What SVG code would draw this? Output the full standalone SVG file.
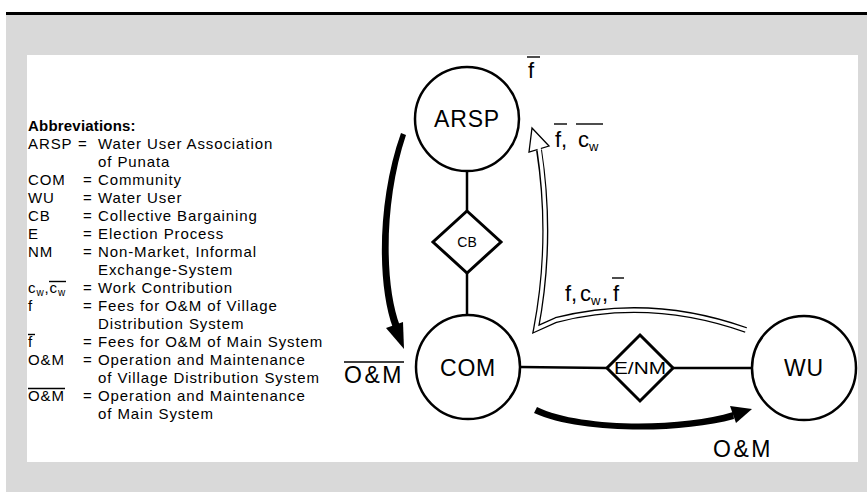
<svg xmlns="http://www.w3.org/2000/svg" width="867" height="492" viewBox="0 0 867 492">
<style>
 text{font-family:"Liberation Sans",Arial,Helvetica,sans-serif;fill:#000}
 .lg{font-size:15px;letter-spacing:0.9px}
 .lgb{font-size:15px;font-weight:bold;letter-spacing:0.2px}
 .lsub{font-size:10px}
 .nl{font-size:23px;text-anchor:middle;letter-spacing:0.8px}
 .dl{font-size:14px;text-anchor:middle}
 .lab{font-size:22px}
 .big{font-size:23px;letter-spacing:2.5px}
 .sub{font-size:13px}
 .circ{fill:#fff;stroke:#000;stroke-width:2.5}
 .dia{fill:#fff;stroke:#000;stroke-width:3}
 .edge{stroke:#000;stroke-width:2.5;fill:none}
 .bar{stroke:#000;stroke-width:1.4}
 .hollowOut{fill:none;stroke:#000;stroke-width:6;stroke-linejoin:miter;stroke-miterlimit:30}
 .hollowIn{fill:none;stroke:#fff;stroke-width:3.4;stroke-linejoin:miter;stroke-miterlimit:30}
</style>
<rect width="867" height="492" fill="#fff"/>
<rect x="6" y="15" width="861" height="477" fill="#d9d9d9"/>
<rect x="6" y="12" width="861" height="3" fill="#000"/>
<rect x="27" y="55" width="831" height="407" fill="#fff"/>

<g id="legend">
 <text class="lgb" x="28" y="131">Abbreviations:</text>
 <text class="lg" x="28" y="149">ARSP</text><text class="lg" x="78" y="149">=</text><text class="lg" x="98" y="149">Water User Association</text>
 <text class="lg" x="98" y="167">of Punata</text>
 <text class="lg" x="28" y="185">COM</text><text class="lg" x="83" y="185">=</text><text class="lg" x="98" y="185">Community</text>
 <text class="lg" x="28" y="203">WU</text><text class="lg" x="83" y="203">=</text><text class="lg" x="98" y="203">Water User</text>
 <text class="lg" x="28" y="221">CB</text><text class="lg" x="83" y="221">=</text><text class="lg" x="98" y="221">Collective Bargaining</text>
 <text class="lg" x="28" y="239">E</text><text class="lg" x="83" y="239">=</text><text class="lg" x="98" y="239">Election Process</text>
 <text class="lg" x="28" y="257">NM</text><text class="lg" x="83" y="257">=</text><text class="lg" x="98" y="257">Non-Market, Informal</text>
 <text class="lg" x="98" y="275">Exchange-System</text>
 <text class="lg" x="28" y="293">c<tspan class="lsub" dy="3">w</tspan><tspan dy="-3">,c</tspan><tspan class="lsub" dy="3">w</tspan></text>
 <line class="bar" x1="49" y1="281.5" x2="66" y2="281.5" stroke-width="1.1"/>
 <text class="lg" x="83" y="293">=</text><text class="lg" x="98" y="293">Work Contribution</text>
 <text class="lg" x="28" y="311">f</text><text class="lg" x="83" y="311">=</text><text class="lg" x="98" y="311">Fees for O&amp;M of Village</text>
 <text class="lg" x="98" y="329">Distribution System</text>
 <text class="lg" x="28" y="347">f</text><line class="bar" x1="28" y1="334.5" x2="35" y2="334.5" stroke-width="1.1"/>
 <text class="lg" x="83" y="347">=</text><text class="lg" x="98" y="347">Fees for O&amp;M of Main System</text>
 <text class="lg" x="28" y="365">O&amp;M</text><text class="lg" x="83" y="365">=</text><text class="lg" x="98" y="365">Operation and Maintenance</text>
 <text class="lg" x="98" y="383">of Village Distribution System</text>
 <text class="lg" x="28" y="401">O&amp;M</text><line class="bar" x1="28" y1="388.5" x2="65" y2="388.5" stroke-width="1.1"/>
 <text class="lg" x="83" y="401">=</text><text class="lg" x="98" y="401">Operation and Maintenance</text>
 <text class="lg" x="98" y="419">of Main System</text>
</g>

<g id="connectors">
 <line class="edge" x1="467" y1="171" x2="467" y2="211"/>
 <line class="edge" x1="467" y1="273" x2="467" y2="315"/>
 <line class="edge" x1="520" y1="367" x2="607" y2="368"/>
 <line class="edge" x1="673" y1="368" x2="752" y2="368"/>
 <!-- thick black arrow ARSP -> COM -->
 <path d="M401 133 C377 200 377 285 393 328 L400 326 C384 285 384 200 406 135 Z" fill="#000"/>
 <polygon points="386,328 404,349 403,322" fill="#000"/>
 <!-- thick black arrow COM -> WU -->
 <path d="M537 407 C580 428 680 428 733 412 L734 419 C680 434 580 434 534 413 Z" fill="#000"/>
 <polygon points="730,406 752,409 736,423" fill="#000"/>
 <!-- hollow arrow WU -> COM -> ARSP -->
 <polygon points="532,128 549,146 529,152" fill="#fff" stroke="#000" stroke-width="1.3" stroke-linejoin="miter"/>
 <path class="hollowOut" d="M746 330 Q650 296 556 320 L536 329 Q553 240 539 150"/>
 <path class="hollowIn" d="M746.5 330.2 Q650 296 556 320 L536 329 Q553 240 538.8 146"/>
</g>

<g id="ARSP"><circle class="circ" cx="467" cy="119" r="52"/><text class="nl" x="467" y="127">ARSP</text></g>
<g id="CB"><polygon class="dia" points="467,211 501,242 467,273 433,242"/><text class="dl" x="467" y="247">CB</text></g>
<g id="COM"><circle class="circ" cx="468" cy="367" r="52"/><text class="nl" x="468" y="376">COM</text></g>
<g id="ENM"><polygon class="dia" points="640,335 673,368 640,401 607,368"/><text x="640" y="374" font-size="16" text-anchor="middle" textLength="52" lengthAdjust="spacingAndGlyphs">E/NM</text></g>
<g id="WU"><circle class="circ" cx="804" cy="368" r="52"/><text class="nl" x="804" y="376">WU</text></g>

<g id="labels">
 <text class="lab" x="528" y="78">f</text><line class="bar" x1="527" y1="57" x2="540" y2="57"/>
 <text class="lab" y="147"><tspan x="555">f,</tspan><tspan x="578">c</tspan><tspan class="sub" dy="4">w</tspan></text>
 <line class="bar" x1="554" y1="124" x2="567" y2="124"/><line class="bar" x1="576" y1="124" x2="603" y2="124"/>
 <text class="lab" y="301"><tspan x="565">f,</tspan><tspan x="580">c</tspan><tspan class="sub" dy="4">w</tspan><tspan dy="-4" x="602">,</tspan><tspan x="613">f</tspan></text>
 <line class="bar" x1="612" y1="278" x2="624" y2="278"/>
 <text class="big" x="344" y="383">O&amp;M</text><line class="bar" x1="344" y1="362" x2="404" y2="362" stroke-width="1.6"/>
 <text class="big" x="713" y="457">O&amp;M</text>
</g>
</svg>
